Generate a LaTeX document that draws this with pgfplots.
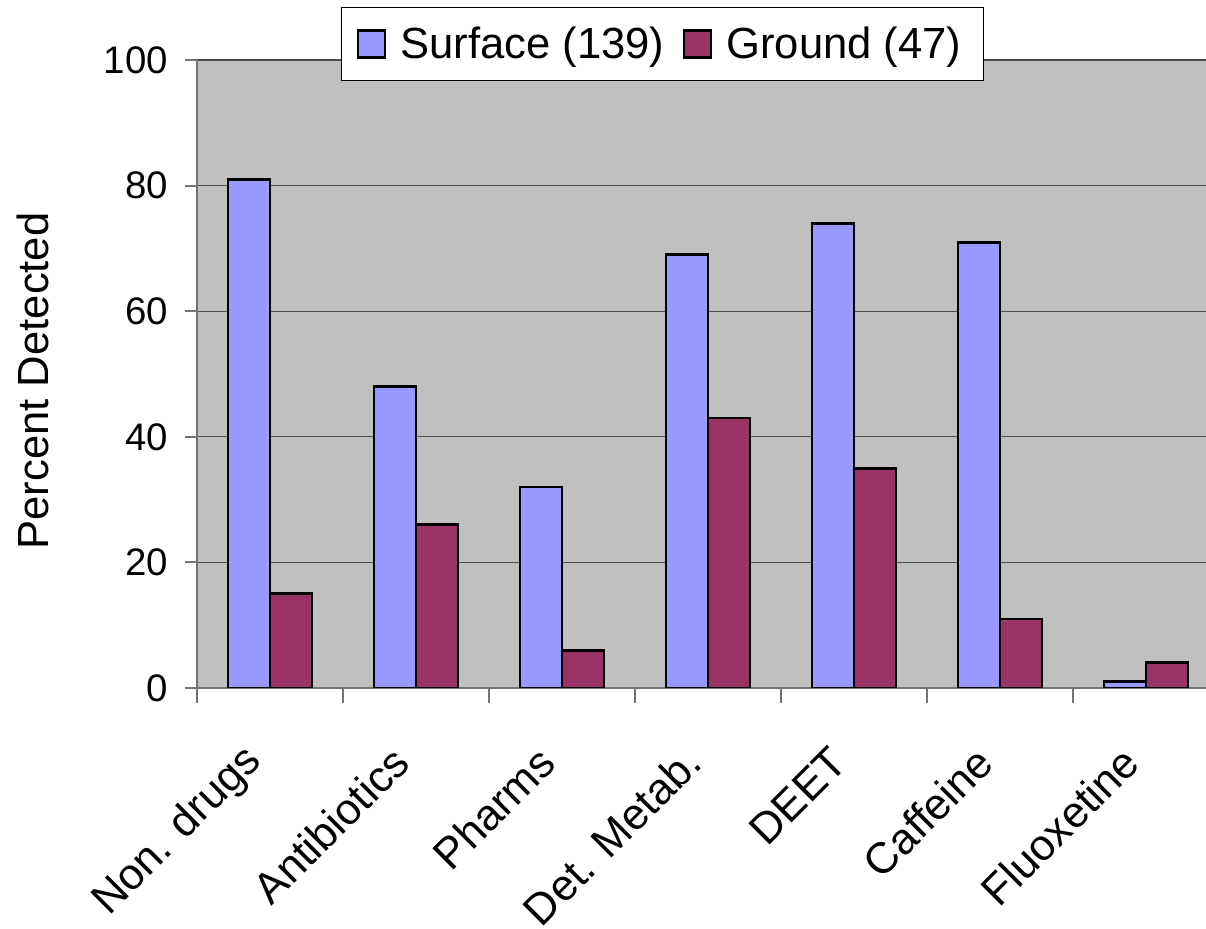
\documentclass[border=0pt]{standalone}
\usepackage{fontspec}
\setmainfont{Liberation Sans}
\usepackage{pgfplots}
\pgfplotsset{compat=1.18}

\definecolor{surface}{HTML}{9999FF}
\definecolor{ground}{HTML}{993366}
\definecolor{plotbg}{HTML}{C0C0C0}
\newcommand\tickfont{\fontsize{19.2}{23}\selectfont}
\newcommand\labfont{\fontsize{21.8}{26}\selectfont}

\begin{document}
\begin{tikzpicture}
\begin{axis}[
    scale only axis,
    width=511pt, height=314pt,
    xmin=-0.5, xmax=6.5,
    ymin=0, ymax=100,
    axis x line=bottom, axis y line=left,
    axis line style={draw=black!55, line width=1pt, -},
    axis background/.style={fill=plotbg},
    ybar=0pt, bar width=21pt,
    ytick={0,20,...,100},
    ymajorgrids,
    grid style={black!70, line width=0.6pt},
    xtick={0,...,6},
    xticklabels={Non. drugs, Antibiotics, Pharms, Det. Metab., DEET, Caffeine, Fluoxetine},
    minor xtick={-0.5,0.5,...,6.5},
    tick align=outside,
    major tick length=6pt, minor tick length=7.5pt,
    tick style={black!55, line width=1pt},
    every major x tick/.style={draw=none},
    /pgf/number format/assume math mode=true,
    yticklabel style={font=\tickfont, xshift=-5pt},
    xticklabel style={font=\labfont, xshift=-5pt, yshift=-25pt, rotate=45, anchor=east},
    ylabel={Percent Detected},
    ylabel style={at={(axis description cs:-0.1605,0.489)}, anchor=center, font=\labfont},
    legend columns=2,
    legend style={
        at={(0.1409,1.0844)}, anchor=north west,
        draw=black, line width=0.6pt, fill=white,
        inner xsep=7.5pt, inner ysep=5.5pt,
        nodes={inner xsep=3.5pt, inner ysep=4pt, font=\labfont},
        /tikz/every odd column/.append style={column sep=3.5pt},
        /tikz/every even column/.append style={column sep=5.5pt},
    },
    legend image code/.code={\draw[#1, line width=1.4pt] (0pt,-6.75pt) rectangle (13.5pt,6.75pt);},
]
% surface water samples
\addplot[draw=black, line width=1.4pt, fill=surface] coordinates {
    (0,81) (1,48) (2,32) (3,69) (4,74) (5,71) (6,1)
};
% ground water samples
\addplot[draw=black, line width=1.4pt, fill=ground] coordinates {
    (0,15) (1,26) (2,6) (3,43) (4,35) (5,11) (6,4)
};
\legend{Surface (139), Ground (47)}
\end{axis}
\pgfresetboundingbox
\useasboundingbox (-98.5pt,-120.5pt) rectangle (504.5pt,344pt);
\end{tikzpicture}
\end{document}
